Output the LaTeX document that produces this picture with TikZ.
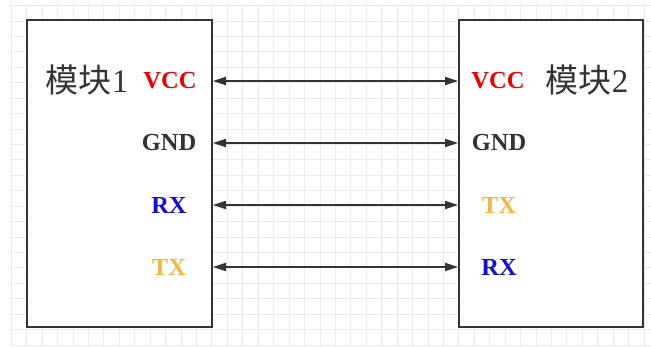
\documentclass[tikz,border=0pt]{standalone}
\usepackage{fontspec}
\setmainfont{Liberation Serif}
\newfontfamily\cjk{Noto Sans CJK SC}
\usetikzlibrary{arrows.meta}
\definecolor{ink}{HTML}{333333}
\definecolor{gridc}{HTML}{EBEBEB}
\definecolor{vccred}{HTML}{F00000}
\definecolor{rxblue}{HTML}{1010D8}
\definecolor{txorange}{HTML}{F2B73E}
\tikzset{
  modbox/.style={draw=ink, line width=2pt, fill=white},
  pin/.style={font=\fontsize{24.5}{29}\selectfont\bfseries, inner sep=0pt, anchor=center},
  title/.style={font=\fontsize{33}{38}\selectfont, text=ink, inner sep=0pt, anchor=center},
  link/.style={draw=ink, line width=1.8pt, {Triangle[length=13pt,width=8pt]}-{Triangle[length=13pt,width=8pt]}}
}
\begin{document}
\begin{tikzpicture}[x=1pt,y=-1pt]
\useasboundingbox (0,0) rectangle (651,347);
\fill[white] (0,0) rectangle (651,347);
% grid
\begin{scope}
\clip (10,4) rectangle (651,346);
\foreach \i in {0,...,42} {
  \draw[gridc, line width=0.8pt] ({11.3+15.43*\i},0) -- ({11.3+15.43*\i},347);
}
\foreach \j in {0,...,22} {
  \draw[gridc, line width=0.8pt] (0,{5.5+15.43*\j}) -- (651,{5.5+15.43*\j});
}
\end{scope}
% boxes
\draw[modbox] (27,20.5) rectangle (212,327.5);
\draw[modbox] (459,20.5) rectangle (643,327.5);
\coordinate (L) at (213,0);
\coordinate (R) at (458,0);
% titles
\node[title] (m1) at (87,80) {{\cjk 模块}1};
\node[title] (m2) at (587,80) {{\cjk 模块}2};
% left pins
\node[pin, text=vccred] (lv) at (170,81) {VCC};
\node[pin, text=ink] (lg) at (169,143) {GND};
\node[pin, text=rxblue] (lr) at (169,205) {RX};
\node[pin, text=txorange] (lt) at (169,267) {TX};
% right pins
\node[pin, text=vccred] (rv) at (498,81) {VCC};
\node[pin, text=ink] (rg) at (499,143) {GND};
\node[pin, text=txorange] (rt) at (499,205) {TX};
\node[pin, text=rxblue] (rr) at (499,267) {RX};
% connectors
\draw[link] (L |- lv) -- (R |- rv);
\draw[link] (L |- lg) -- (R |- rg);
\draw[link] (L |- lr) -- (R |- rt);
\draw[link] (L |- lt) -- (R |- rr);
\end{tikzpicture}
\end{document}
